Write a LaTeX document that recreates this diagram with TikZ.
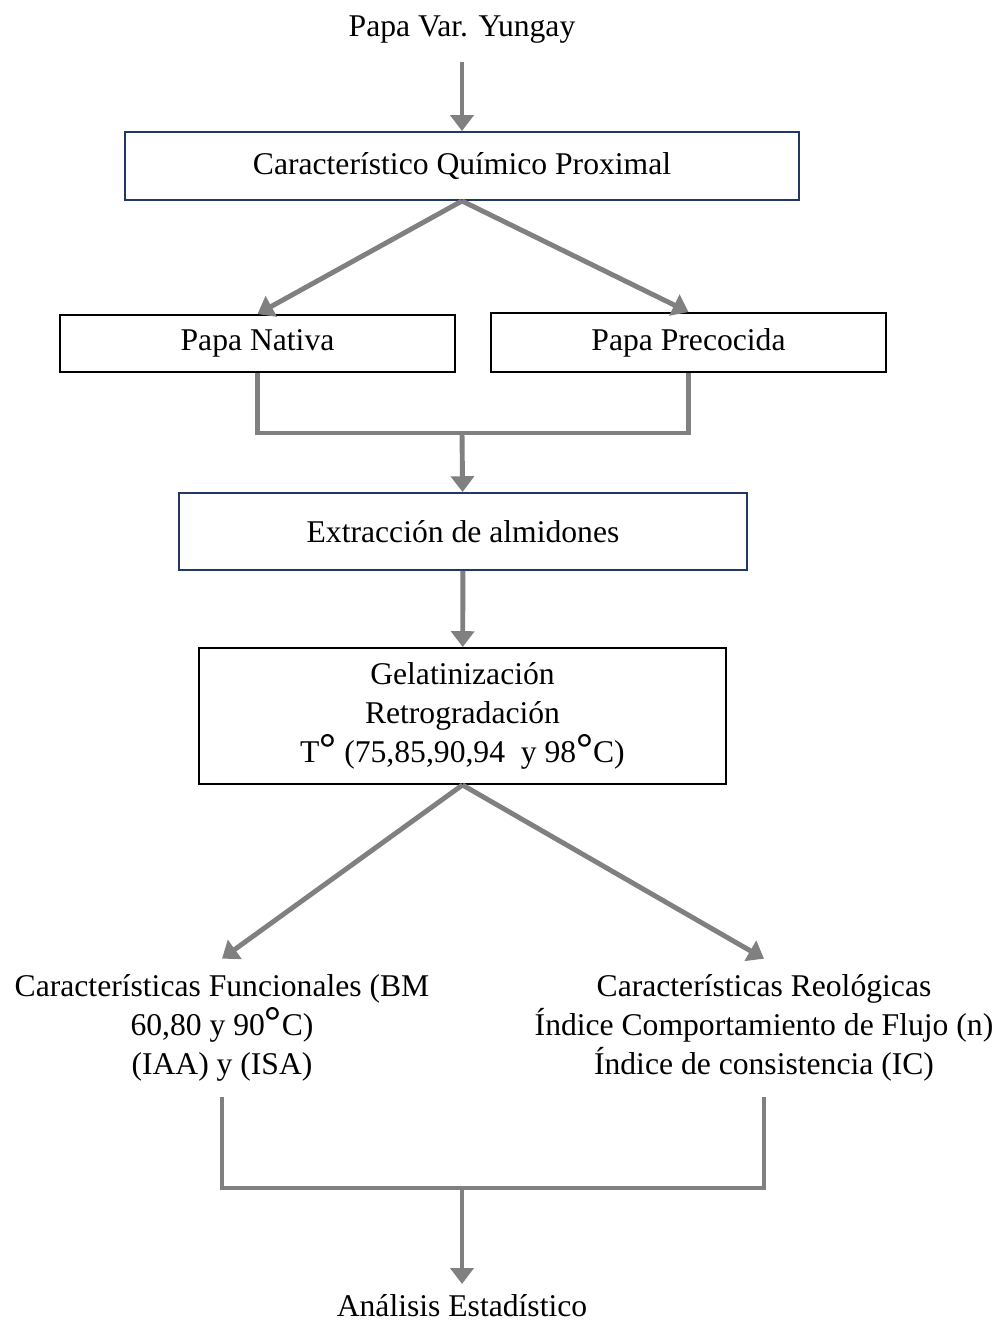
\documentclass[tikz,border=0pt]{standalone}
\usepackage{fontspec}
\setmainfont{Liberation Serif}
\usetikzlibrary{arrows.meta}
\definecolor{navy}{HTML}{203864}
\definecolor{flecha}{HTML}{808080}
\tikzset{
    caja/.style={draw=black, line width=1.1pt, inner sep=0pt, align=center},
    cajaazul/.style={caja, draw=navy},
    flujo/.style={draw=flecha, line width=2.8pt},
    flechagris/.style={flujo, -{Triangle[width=13pt,length=9pt]}}
}
\newcommand{\grado}{{\fontsize{24pt}{0pt}\selectfont\bfseries °}}
\begin{document}
\fontsize{18pt}{22.2pt}\selectfont
\begin{tikzpicture}
            \useasboundingbox (0,0) rectangle (20,-26.44);
            \node(papa) at (9.24,-0.6){Papa Var. Yungay};
            \node[cajaazul, minimum width=13.48cm, minimum height=1.36cm](quimico) at (9.24,-3.32){Característico Químico Proximal};
            \node[caja, minimum width=7.9cm, minimum height=1.14cm](nativa) at (5.15,-6.87){Papa Nativa};
            \node[caja, minimum width=7.9cm, minimum height=1.18cm](precocida) at (13.77,-6.85){Papa Precocida};
            \node[cajaazul, minimum width=11.36cm, minimum height=1.54cm](extraccion) at (9.26,-10.63){Extracción de almidones};
            \node[caja, minimum width=10.54cm, minimum height=2.72cm](gelatin) at (9.25,-14.32){Gelatinización\\Retrogradación\\T\grado{} (75,85,90,94~ y 98\grado C)};
            \node[align=center, inner sep=0pt, minimum height=2.76cm](funcional) at (4.44,-20.56){Características Funcionales (BM\\60,80 y 90\grado C)\\(IAA) y (ISA)};
            \node[align=center, inner sep=0pt, minimum height=2.76cm](reologica) at (15.28,-20.56){Características Reológicas\\Índice Comportamiento de Flujo (n)\\Índice de consistencia (IC)};
            \node(analisis) at (9.24,-26.12){Análisis Estadístico};
            \coordinate(union1) at (9.24,-8.66);
            \coordinate(union2) at (9.24,-23.76);
            \draw[flechagris, shorten <=4pt] (papa) -- (quimico);
            \draw[flechagris] (quimico.south) -- (nativa.north);
            \draw[flechagris] (quimico.south) -- (precocida.north);
            \draw[flujo] (nativa.south) |- (union1) -| (precocida.south);
            \draw[flechagris] (union1) -- (extraccion);
            \draw[flechagris] (extraccion) -- (gelatin);
            \draw[flechagris] (gelatin.south) -- (funcional.north);
            \draw[flechagris] (gelatin.south) -- (reologica.north);
            \draw[flujo] (funcional.south) |- (union2) -| (reologica.south);
            \draw[flechagris] (union2) -- (analisis);
        \end{tikzpicture}
\end{document}
